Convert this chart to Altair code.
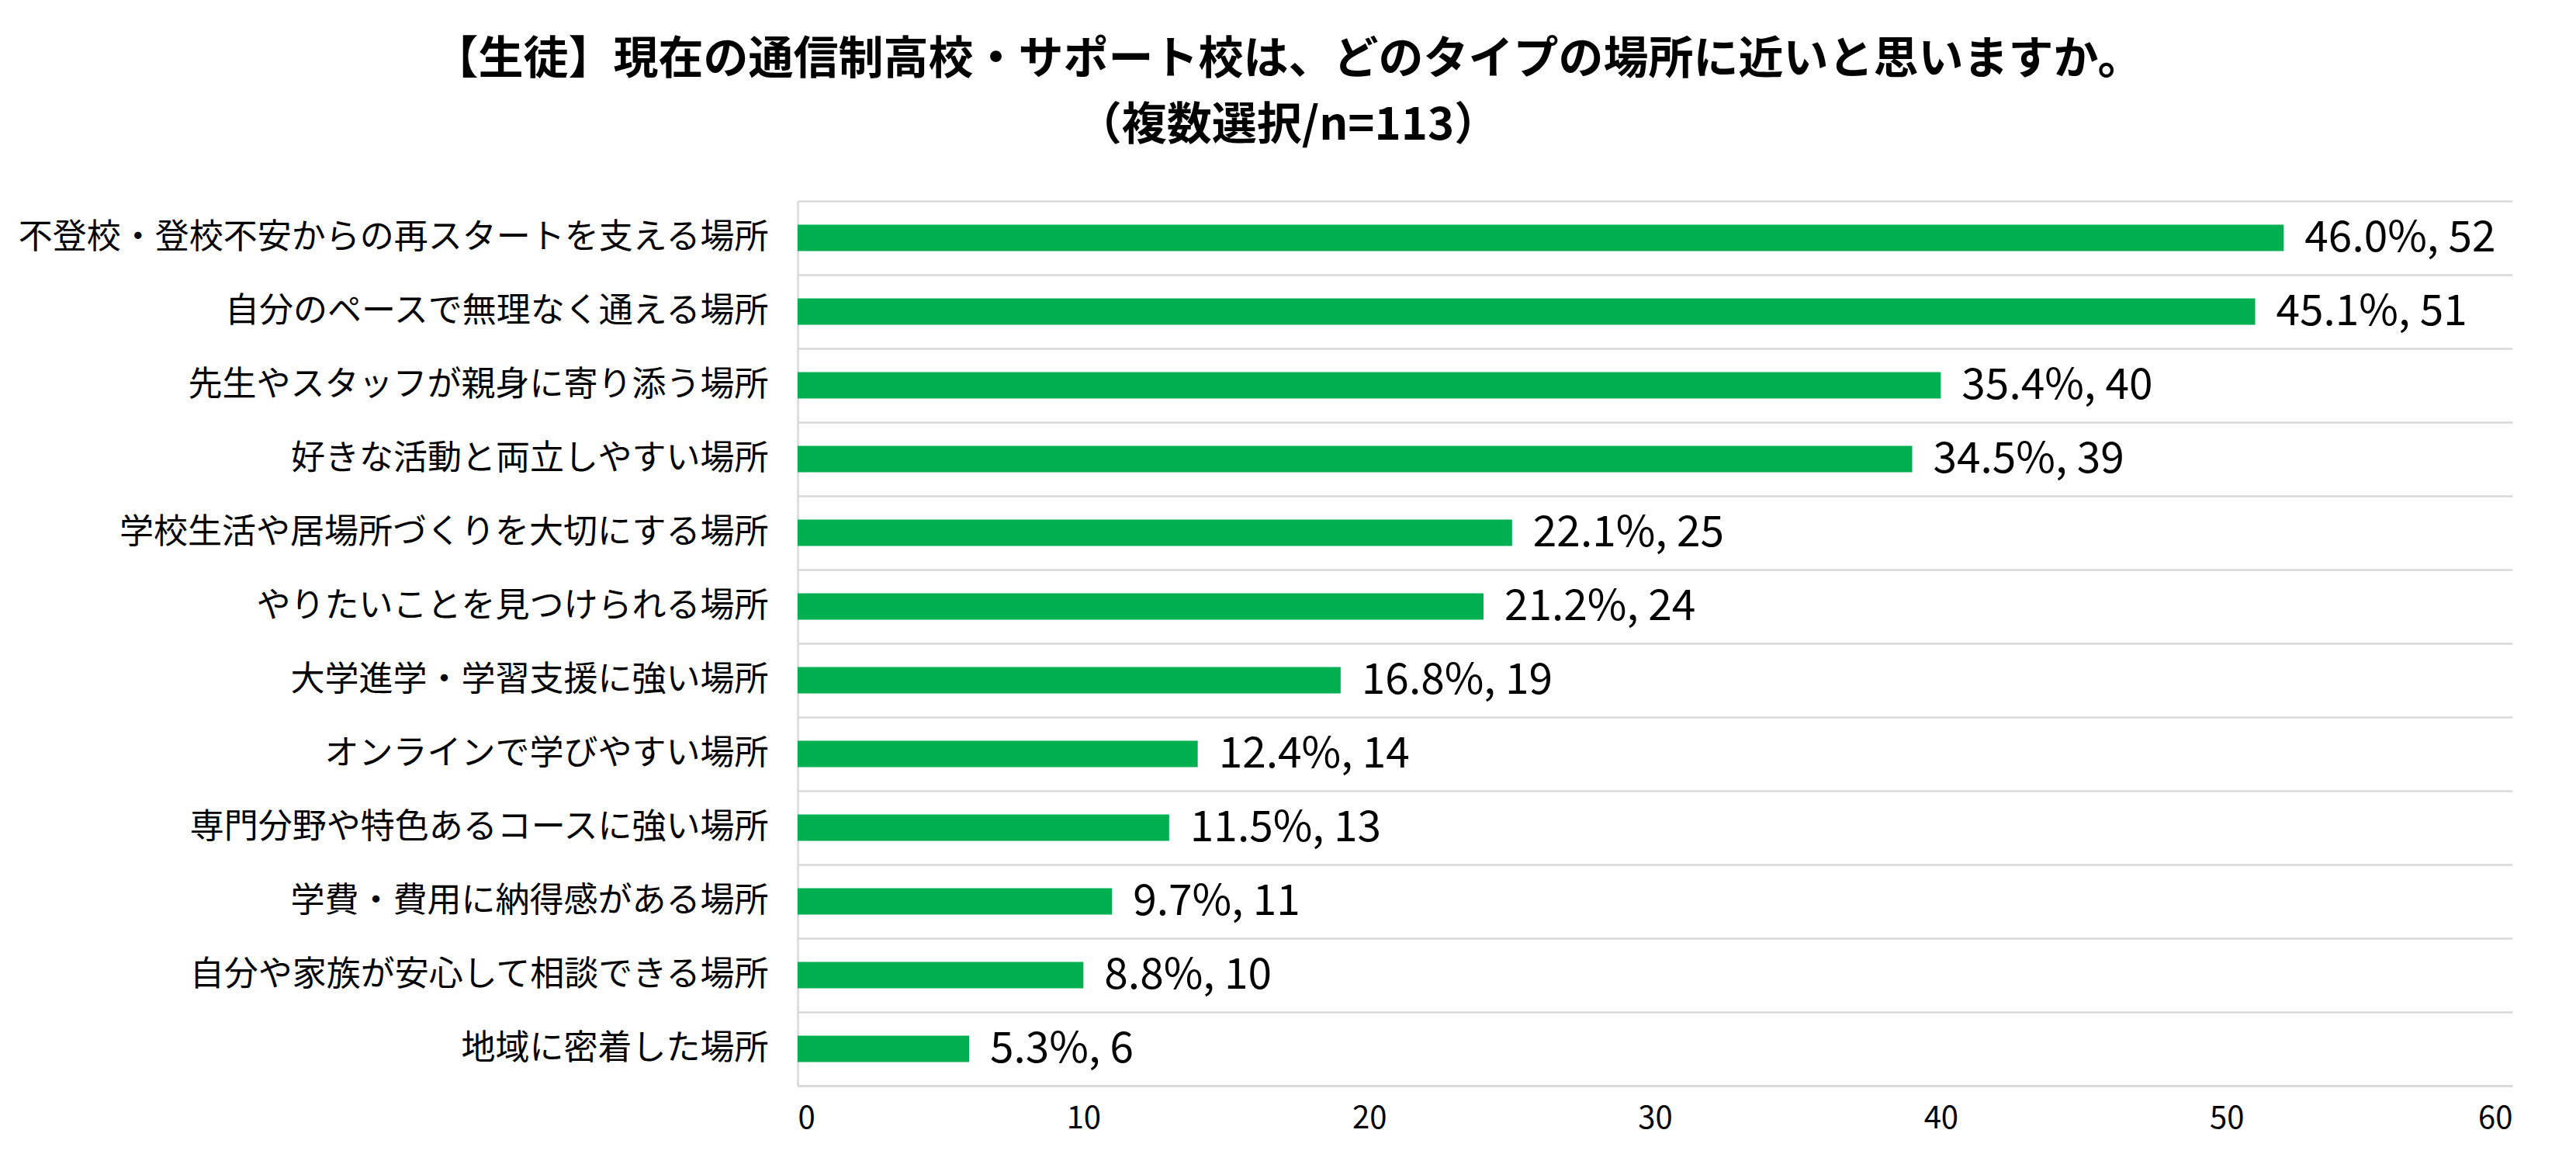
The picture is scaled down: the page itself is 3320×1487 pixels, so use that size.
"""Bar chart: which type of place students think their school is close to."""

import altair as alt
import pandas as pd

categories = [
    "不登校・登校不安からの再スタートを支える場所",
    "自分のペースで無理なく通える場所",
    "先生やスタッフが親身に寄り添う場所",
    "好きな活動と両立しやすい場所",
    "学校生活や居場所づくりを大切にする場所",
    "やりたいことを見つけられる場所",
    "大学進学・学習支援に強い場所",
    "オンラインで学びやすい場所",
    "専門分野や特色あるコースに強い場所",
    "学費・費用に納得感がある場所",
    "自分や家族が安心して相談できる場所",
    "地域に密着した場所",
]
percents = [46.0, 45.1, 35.4, 34.5, 22.1, 21.2, 16.8, 12.4, 11.5, 9.7, 8.8, 5.3]
counts = [52, 51, 40, 39, 25, 24, 19, 14, 13, 11, 10, 6]
x_ticks = [0, 10, 20, 30, 40, 50, 60]

FONT = "Noto Sans CJK JP"
GREEN = "#00b050"
GRID = "#d9d9d9"


def main():
    """Build and save the chart."""
    df = pd.DataFrame(
        {
            "item": categories,
            "pct": percents,
            "n": counts,
            "label": [f"{p:.1f}%, {n}" for p, n in zip(percents, counts)],
        }
    )

    y_enc = alt.Y(
        "item:N",
        sort=None,
        title=None,
        scale=alt.Scale(paddingInner=0, paddingOuter=0),
        axis=alt.Axis(
            grid=True,
            tickBand="extent",
            gridColor=GRID,
            gridWidth=2.5,
            ticks=False,
            domain=True,
            domainColor=GRID,
            domainWidth=2.5,
            labelFont=FONT,
            labelFontSize=44,
            labelColor="#000000",
            labelPadding=38,
            labelLimit=1000,
        ),
    )
    x_enc = alt.X(
        "n:Q",
        title=None,
        scale=alt.Scale(domain=[0, 60], nice=False),
        axis=alt.Axis(
            values=x_ticks,
            grid=False,
            ticks=False,
            domain=True,
            domainColor=GRID,
            domainWidth=2.5,
            labelFont=FONT,
            labelFontSize=40,
            labelColor="#000000",
            labelPadding=22,
        ),
    )

    bars = alt.Chart(df).mark_bar(color=GREEN, size=34).encode(x=x_enc, y=y_enc)
    texts = (
        alt.Chart(df)
        .mark_text(
            align="left",
            baseline="middle",
            dx=27,
            font=FONT,
            fontSize=55,
            color="#000000",
        )
        .encode(x=x_enc, y=y_enc, text="label:N")
    )

    chart = (
        alt.layer(bars, texts)
        .properties(
            width=2210,
            height=1140,
            autosize=alt.AutoSizeParams(type="none"),
            padding={"left": 1020, "top": 251, "right": 74, "bottom": 80},
            view=alt.ViewBackground(strokeWidth=0),
            title=alt.TitleParams(
                text=[
                    "【生徒】現在の通信制高校・サポート校は、どのタイプの場所に近いと思いますか。",
                    "（複数選択/n=113）",
                ],
                font=FONT,
                fontSize=58,
                fontWeight="bold",
                color="#000000",
                lineHeight=85,
                anchor="middle",
                frame="group",
                dx=-473,
                offset=45,
            ),
        )
        .configure(background="#ffffff")
    )

    chart.save("out.html", embed_options={"renderer": "svg", "actions": False})


if __name__ == "__main__":
    main()
